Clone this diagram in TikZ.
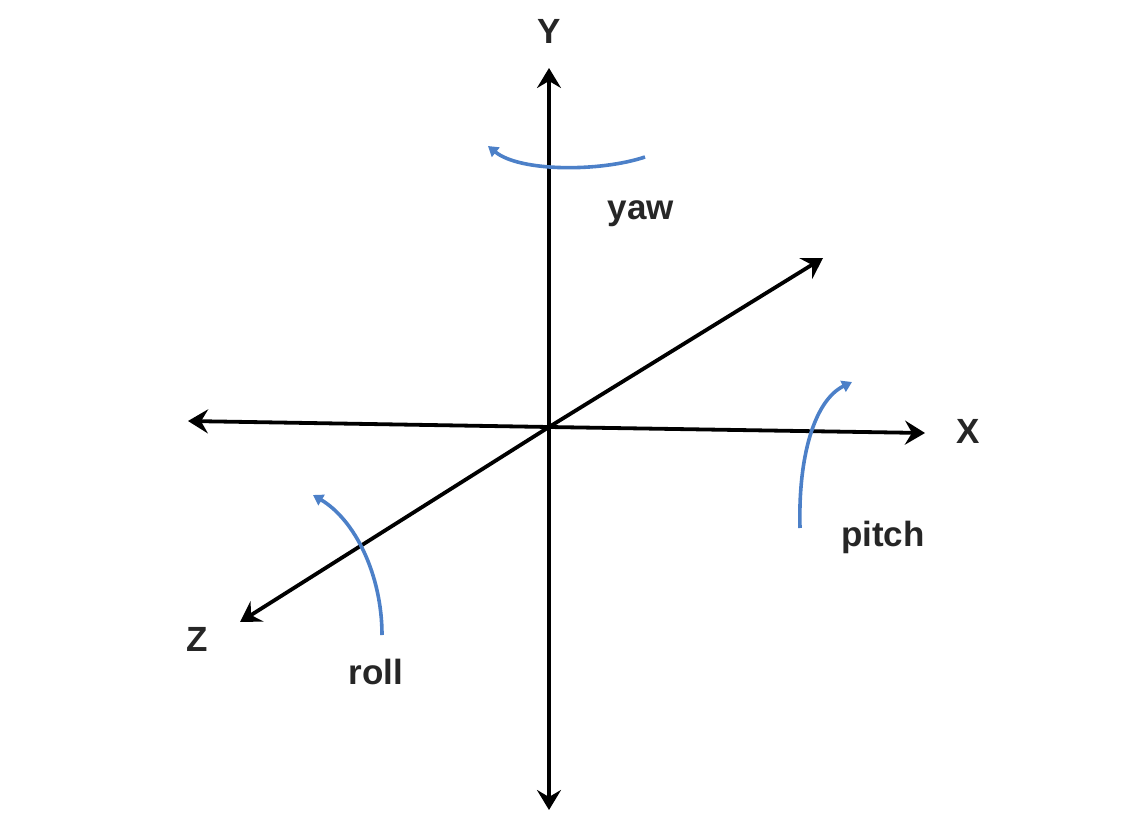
\documentclass[tikz,border=0pt]{standalone}
\usepackage{fontspec}
\setmainfont{Liberation Sans}
\usepackage{xcolor}
\usetikzlibrary{arrows.meta}
\definecolor{rotblue}{RGB}{76,128,200}

\begin{document}
\begin{tikzpicture}[x=0.5pt, y=-0.5pt, font=\fontsize{17.5}{20}\selectfont\bfseries,
  axis/.style={line width=1.9pt, -{Stealth[length=10pt, width=12pt, inset=3.5pt]}},
  rot/.style={rotblue, line width=1.8pt, -{Triangle[length=5pt, width=6pt]}},
  lbl/.style={inner sep=0pt, text=black!85}]
\useasboundingbox (0,0) rectangle (1143,812);
% axes
\coordinate (o) at (549,427);
\coordinate (yp) at (549,68);
\coordinate (yn) at (549,810);
\coordinate (xp) at (925,433);
\coordinate (xn) at (188,421);
\coordinate (zp) at (240,622);
\coordinate (zn) at (823,258);
\draw[axis] (o) -- (yp);
\draw[axis] (o) -- (yn);
\draw[axis] (o) -- (xp);
\draw[axis] (o) -- (xn);
\draw[axis] (o) -- (zp);
\draw[axis] (o) -- (zn);
\node[lbl] (ly) at (549,31) {Y};
\node[lbl] (lx) at (968,431) {X};
\node[lbl] (lz) at (197,639) {Z};
% rotations
\coordinate (yaw0) at (645,157);
\coordinate (yaw1) at (488,146);
\coordinate (pit0) at (800,528);
\coordinate (pit1) at (852,382);
\coordinate (rol0) at (382,635);
\coordinate (rol1) at (313,495);
\draw[rot] (yaw0) .. controls (600,172) and (520,172) .. (yaw1);
\draw[rot] (pit0) .. controls (798,455) and (815,400) .. (pit1);
\draw[rot] (rol0) .. controls (382,575) and (355,520) .. (rol1);
\node[lbl] (lyaw) at (641,214) {yaw};
\node[lbl] (lpitch) at (883,537) {pitch};
\node[lbl] (lroll) at (376,672) {roll};
\end{tikzpicture}
\end{document}
